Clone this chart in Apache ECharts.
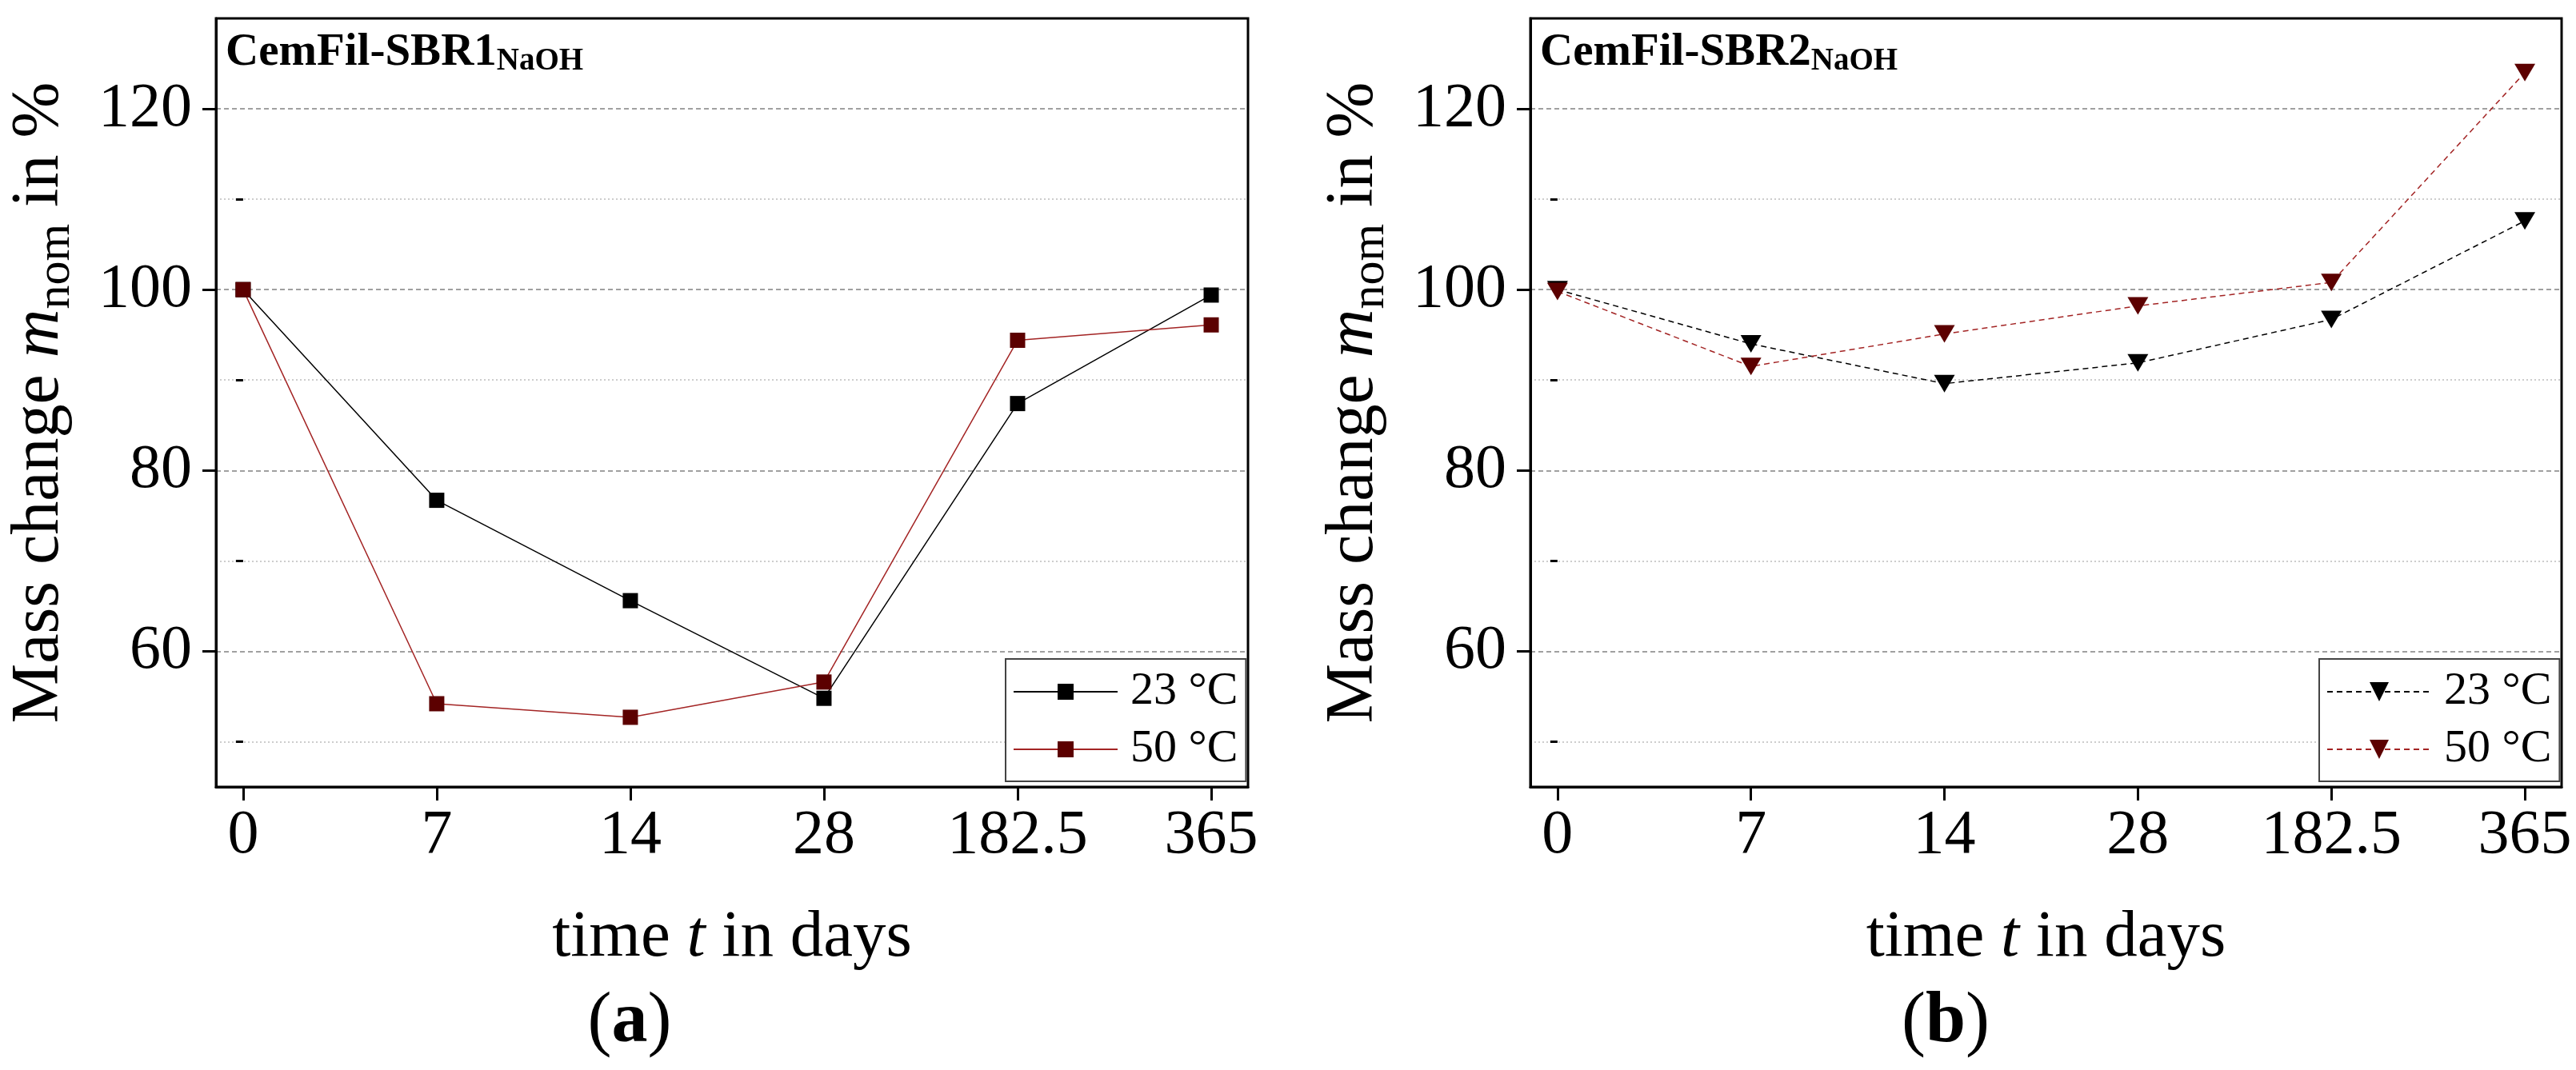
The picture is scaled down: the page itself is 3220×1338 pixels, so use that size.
<!DOCTYPE html>
<html>
<head>
<meta charset="utf-8">
<script src="https://cdn.jsdelivr.net/npm/echarts@6.0.0/dist/echarts.min.js"></script>
<style>
  html, body { margin: 0; padding: 0; background: #fff; }
  #chart { width: 3220px; height: 1338px; }
</style>
</head>
<body>
<div id="chart"></div>
<script>
// tick labels
const xLabels = ['0', '7', '14', '28', '182.5', '365'];
const yMajor = [60, 80, 100, 120];
const yMinor = [50, 70, 90, 110];

// CemFil-SBR1 in NaOH, mass change in %
const sbr1At23 = [100, 76.7, 65.6, 54.8, 87.4, 99.4];
const sbr1At50 = [100, 54.2, 52.7, 56.6, 94.4, 96.1];
// CemFil-SBR2 in NaOH
const sbr2At23 = [100, 94.0, 89.6, 91.9, 96.7, 107.6];
const sbr2At50 = [99.8, 91.5, 95.1, 98.2, 100.8, 124.0];

const labelOf = { a23: '23 °C', a50: '50 °C', b23: '23 °C', b50: '50 °C' };

const FONT = 'Liberation Serif';
const RED_LINE = '#a32424';
const RED_MARK = '#5c0000';

const chart = echarts.init(document.getElementById('chart'));

function pairs(vals) {
    return vals.map((v, i) => [i, v]);
}

function xAxis(gridIndex) {
    const idx = xLabels.map((_, i) => i);
    return {
        type: 'value', gridIndex, min: -0.14, max: 5.19,
        name: '{r|time }{i|t}{r| in days}',
        nameLocation: 'middle', nameGap: 139, nameMoveOverlap: false,
        nameTextStyle: {
            rich: {
                r: { fontFamily: FONT, fontSize: 83, lineHeight: 100, color: '#000' },
                i: { fontFamily: FONT, fontSize: 83, lineHeight: 100, color: '#000', fontStyle: 'italic' }
            }
        },
        axisLine: { show: true, onZero: false, lineStyle: { color: '#000', width: 3 } },
        axisTick: { show: true, inside: false, length: 17, customValues: idx, lineStyle: { color: '#000', width: 3 } },
        axisLabel: {
            customValues: idx, formatter: v => xLabels[Math.round(v)],
            margin: 22, fontFamily: FONT, fontSize: 78, lineHeight: 80, color: '#000'
        },
        splitLine: { show: false }
    };
}

function yMajorAxis(gridIndex) {
    return {
        type: 'value', gridIndex, min: 45, max: 130, position: 'left',
        name: '{r|Mass change }{i|m}{s|nom}{r| in %}',
        nameLocation: 'middle', nameGap: 170, nameRotate: 90, nameMoveOverlap: false,
        nameTextStyle: {
            rich: {
                r: { fontFamily: FONT, fontSize: 84, lineHeight: 100, color: '#000' },
                i: { fontFamily: FONT, fontSize: 84, lineHeight: 100, color: '#000', fontStyle: 'italic' },
                s: { fontFamily: FONT, fontSize: 60, lineHeight: 48, color: '#000', verticalAlign: 'bottom' }
            }
        },
        axisLine: { show: true, onZero: false, lineStyle: { color: '#000', width: 3 } },
        axisTick: { show: true, length: 17, customValues: yMajor, lineStyle: { color: '#000', width: 3 } },
        axisLabel: { customValues: yMajor, margin: 30, fontFamily: FONT, fontSize: 78, color: '#000' },
        splitLine: { show: true, lineStyle: { color: '#a0a0a0', width: 2, type: [6, 4] } }
    };
}

function yMinorAxis(gridIndex) {
    return {
        type: 'value', gridIndex, min: 45, max: 130, position: 'left',
        axisLine: { show: false },
        axisTick: { show: true, length: 9, customValues: yMinor, lineStyle: { color: '#000', width: 3 } },
        axisLabel: { show: false },
        splitLine: { show: true, lineStyle: { color: '#cdcdcd', width: 2, type: [2, 3] } }
    };
}

// text box of a legend row is about one font size tall (58 px)
function legend(left, names, itemHeight) {
    return {
        orient: 'vertical', left: left, top: 824,
        padding: [12, 10, 11, 9],
        itemWidth: 130, itemHeight: itemHeight, itemGap: 14,
        borderColor: '#444', borderWidth: 2, backgroundColor: '#fff',
        data: names, selectedMode: false,
        formatter: n => labelOf[n],
        textStyle: { fontFamily: FONT, fontSize: 58, color: '#000', padding: [0, 0, 0, 11] }
    };
}

function squares(name, vals, lineColor, markColor) {
    return {
        name, type: 'line', xAxisIndex: 0, yAxisIndex: 0, data: pairs(vals),
        symbol: 'rect', symbolSize: 19,
        lineStyle: { color: lineColor, width: 1.5 },
        itemStyle: { color: markColor },
        emphasis: { disabled: true }
    };
}

function triangles(name, vals, lineColor, markColor) {
    return {
        name, type: 'line', xAxisIndex: 1, yAxisIndex: 2, data: pairs(vals),
        symbol: 'triangle', symbolSize: [26, 22], symbolRotate: 180,
        lineStyle: { color: lineColor, width: 1.5, type: [7, 5] },
        itemStyle: { color: markColor },
        emphasis: { disabled: true }
    };
}

function panelLabel(x, text) {
    return {
        type: 'text', x: x, y: 36,
        style: {
            text: text, align: 'left', verticalAlign: 'top', textAlign: 'left', textVerticalAlign: 'top',
            rich: {
                b: { fontFamily: FONT, fontWeight: 'bold', fontSize: 57, lineHeight: 60, fill: '#000', color: '#000' },
                s: { fontFamily: FONT, fontWeight: 'bold', fontSize: 39, lineHeight: 16, verticalAlign: 'bottom', fill: '#000', color: '#000' }
            }
        }
    };
}

function letterLabel(x, letter) {
    return {
        type: 'text', x: x, y: 1279,
        style: {
            text: '{p|(}{a|' + letter + '}{p|)}',
            align: 'center', verticalAlign: 'middle', textAlign: 'center', textVerticalAlign: 'middle',
            rich: {
                p: { fontFamily: FONT, fontSize: 90, lineHeight: 100, fill: '#000', color: '#000' },
                a: { fontFamily: FONT, fontSize: 90, lineHeight: 100, fontWeight: 'bold', fill: '#000', color: '#000' }
            }
        }
    };
}

const option = {
    animation: false,
    backgroundColor: '#fff',
    grid: [
        { left: 270, top: 23, width: 1290, height: 961, show: true, borderColor: '#000', borderWidth: 3, outerBoundsMode: 'none' },
        { left: 1913, top: 23, width: 1289, height: 961, show: true, borderColor: '#000', borderWidth: 3, outerBoundsMode: 'none' }
    ],
    xAxis: [xAxis(0), xAxis(1)],
    yAxis: [yMajorAxis(0), yMinorAxis(0), yMajorAxis(1), yMinorAxis(1)],
    legend: [
        legend(1257, ['a23', 'a50'], 25),
        legend(2899, ['b23', 'b50'], 30)
    ],
    graphic: [
        panelLabel(282, '{b|CemFil-SBR1}{s|NaOH}'),
        panelLabel(1925, '{b|CemFil-SBR2}{s|NaOH}'),
        letterLabel(787, 'a'),
        letterLabel(2432, 'b')
    ],
    series: [
        squares('a23', sbr1At23, '#000', '#000'),
        squares('a50', sbr1At50, RED_LINE, RED_MARK),
        triangles('b23', sbr2At23, '#000', '#000'),
        triangles('b50', sbr2At50, RED_LINE, RED_MARK)
    ]
};

chart.setOption(option);
</script>
</body>
</html>
